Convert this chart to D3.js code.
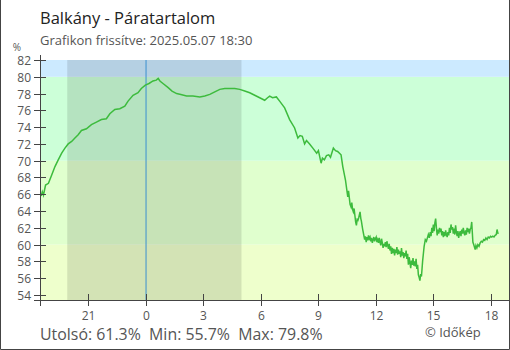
<!DOCTYPE html>
<html><head><meta charset="utf-8">
<script src="https://cdn.jsdelivr.net/npm/d3@7"></script>
<style>
html,body{margin:0;padding:0;background:#fff;}
svg{display:block;font-family:"Open Sans",sans-serif;}
</style></head><body>
<svg id="c" width="510" height="350"></svg>
<script>
// Data (hours relative to midnight, humidity %)
const hours = [-5.44,-5.38,-5.32,-5.21,-5.06,-4.89,-4.72,-4.55,-4.37,-4.20,-4.03,-3.85,-3.68,-3.51,-3.34,-3.08,-2.82,-2.56,-2.30,-2.04,-1.86,-1.60,-1.34,-1.08,-0.91,-0.65,-0.39,-0.22,-0.01,0.18,0.39,0.56,0.66,0.75,0.91,1.18,1.38,1.62,1.84,2.14,2.47,2.83,3.09,3.35,3.61,3.87,4.13,4.39,4.65,4.91,5.17,5.43,5.69,5.95,6.21,6.36,6.47,6.62,6.82,6.99,7.25,7.51,7.77,7.94,8.05,8.17,8.29,8.39,8.55,8.72,8.92,9.01,9.15,9.22,9.32,9.43,9.55,9.64,9.79,9.90,10.01,10.19,10.28,10.42,
10.54,10.58,10.62,10.66,10.71,10.75,10.79,10.83,10.87,10.91,10.95,10.99,11.03,11.07,11.11,11.15,11.18,11.22,11.25,11.29,
11.32,11.37,11.42,11.46,11.50,11.54,11.58,11.62,11.66,11.70,11.74,11.78,11.82,11.86,11.90,11.94,11.98,12.02,12.06,12.10,12.14,12.18,12.22,12.26,12.30,12.34,12.38,12.42,12.46,12.50,12.54,12.58,12.62,12.66,12.70,12.74,12.78,12.82,12.86,12.90,12.94,12.98,13.02,13.06,13.10,13.14,13.18,13.22,13.26,13.30,13.34,13.38,13.42,13.46,13.50,13.54,13.58,13.62,13.66,13.70,13.74,13.78,13.82,13.86,13.90,13.94,13.98,14.02,14.06,14.10,14.14,14.18,14.22,14.26,14.30,14.34,14.38,14.44,
14.52,14.58,14.64,14.69,14.74,14.79,14.84,14.88,14.92,14.96,15.00,15.04,15.08,15.12,15.16,15.20,15.24,15.28,15.32,15.36,15.40,15.44,15.48,15.52,15.56,15.60,15.64,15.68,15.72,15.76,15.80,15.84,15.88,15.92,15.96,16.00,16.04,16.08,16.12,16.16,16.20,16.24,16.28,16.32,16.36,16.40,16.44,16.48,16.52,16.56,16.60,16.64,16.68,16.72,16.76,16.80,16.84,16.88,16.92,16.96,17.00,17.03,17.06,17.12,17.18,17.22,17.27,17.32,17.38,17.44,17.50,17.56,17.62,17.68,17.74,17.80,17.86,17.92,17.98,18.04,18.10,18.16,18.22,18.28,18.32,18.36,18.39];
const humidity = [65.8,66.3,65.9,67.1,67.3,68.3,69.3,70.1,70.9,71.5,72.0,72.3,72.7,73.1,73.6,73.8,74.3,74.6,74.9,75.0,75.6,76.1,76.2,76.5,77.1,77.8,78.1,78.6,79.0,79.2,79.5,79.6,79.8,79.5,79.2,78.7,78.3,78.0,77.9,77.7,77.7,77.6,77.7,77.9,78.2,78.5,78.6,78.6,78.6,78.5,78.3,78.1,77.8,77.5,77.2,77.5,77.7,77.5,77.6,77.1,76.3,74.9,73.9,72.7,73.0,72.9,72.0,72.4,72.0,71.5,70.9,71.2,69.7,70.3,70.1,70.6,70.7,70.4,71.5,71.2,71.1,70.7,69.3,67.7,
65.7,66.4,65.6,64.8,64.5,65.0,64.2,63.9,64.3,63.5,62.7,62.3,63.0,62.9,63.2,63.6,63.9,63.1,62.8,62.2,
61.8,61.2,60.6,61.0,60.3,60.9,60.5,61.1,60.7,60.9,60.4,60.8,60.2,60.6,60.9,60.4,60.7,60.9,60.3,60.6,60.2,60.8,60.3,59.9,60.7,60.2,59.6,60.1,59.8,60.3,59.7,60.4,59.9,59.5,60.1,59.3,59.8,58.9,59.6,59.0,59.5,58.7,59.4,59.0,59.7,58.8,59.4,58.9,59.2,58.5,59.6,58.7,59.1,58.4,59.0,58.6,59.3,58.3,58.9,57.6,58.5,57.9,57.2,58.1,57.6,58.4,57.5,58.0,57.4,58.3,57.1,57.6,56.4,56.1,55.7,56.5,56.2,58.0,
59.8,60.6,60.4,60.8,61.2,60.8,61.5,61.0,62.0,61.4,62.4,61.6,62.6,63.1,62.0,61.1,61.8,61.3,62.0,61.5,61.9,61.1,61.6,60.9,61.5,61.0,61.7,61.2,60.9,61.5,61.1,62.0,61.4,62.4,61.8,62.1,61.3,61.9,61.2,62.3,61.5,61.0,61.6,60.8,61.3,61.6,61.0,61.8,61.3,62.0,61.4,61.1,61.7,61.2,62.0,61.5,61.9,61.3,61.8,62.0,62.7,61.5,60.3,59.9,59.4,59.9,59.6,60.0,59.8,60.2,60.4,60.3,60.6,60.5,60.8,60.6,60.9,60.8,61.0,60.9,61.0,60.9,61.1,61.2,61.8,61.4,61.3];
const yTicks = [54,56,58,60,62,64,66,68,70,72,74,76,78,80,82];
const xTickHours = [-3,0,3,6,9,12,15,18];
const xTickLabels = ["21","0","3","6","9","12","15","18"];
const bands = [[53.4,60],[60,70],[70,80],[80,82]];
const bandColors = ["#eeffcc","#e0ffce","#ccffd8","#cceaff"];
const night = [-4.08,5.0];
const title = "Balkány - Páratartalom";
const subtitle = "Grafikon frissítve: 2025.05.07 18:30";
const stats = "Utolsó: 61.3%  Min: 55.7%  Max: 79.8%";

const svg = d3.select("#c");
const L=40, R=509, T=60, B=300;
const x = d3.scaleLinear().domain([-5.5,18.5]).range([40,500.5]);
const y = d3.scaleLinear().domain([53.4,82]).range([B,T]);

// border
svg.append("path").attr("d","M0.5,0 V349.5 H509.5 V0").attr("fill","none").attr("stroke","#444").attr("stroke-width",1);

// bands
svg.selectAll("rect.band").data(bands).enter().append("rect")
  .attr("x",L).attr("width",R-L)
  .attr("y",d=>y(d[1])).attr("height",d=>y(d[0])-y(d[1]))
  .attr("fill",(d,i)=>bandColors[i]);
// night
svg.append("rect").attr("x",x(night[0])).attr("width",x(night[1])-x(night[0]))
  .attr("y",T).attr("height",B-T).attr("fill","rgba(0,0,0,0.11)");
// midnight line
svg.append("line").attr("x1",x(0)+0.5).attr("x2",x(0)+0.5).attr("y1",T).attr("y2",B)
  .attr("stroke","#3a8fd0").attr("stroke-width",1);

// data line
const pts = hours.map((h,i)=>[h,humidity[i]]);
svg.append("path").datum(pts)
  .attr("d",d3.line().x(d=>x(d[0])).y(d=>y(d[1])))
  .attr("fill","none").attr("stroke","#3dbb3d").attr("stroke-width",1.5);

// y axis
svg.append("line").attr("x1",L+0.5).attr("x2",L+0.5).attr("y1",55).attr("y2",306).attr("stroke","#444");
const yg = svg.append("g");
yTicks.forEach(t=>{
  const yy = Math.round(y(t))+0.5;
  yg.append("line").attr("x1",34).attr("x2",46).attr("y1",yy).attr("y2",yy).attr("stroke","#444");
  yg.append("text").attr("x",31).attr("y",yy).attr("dy","0.35em").attr("text-anchor","end")
    .attr("font-size",12).attr("fill","#555").text(t);
});
svg.append("text").attr("x",17).attr("y",51).attr("font-size",10).attr("fill","#555").attr("text-anchor","middle").text("%");

// x axis
svg.append("line").attr("x1",34).attr("x2",R).attr("y1",B+0.5).attr("y2",B+0.5).attr("stroke","#444");
xTickHours.forEach((h,i)=>{
  const xx = Math.round(x(h))+0.5;
  svg.append("line").attr("x1",xx).attr("x2",xx).attr("y1",294).attr("y2",306).attr("stroke","#444");
  svg.append("text").attr("x",xx).attr("y",320).attr("text-anchor","middle")
    .attr("font-size",12).attr("fill","#555").text(xTickLabels[i]);
});

// titles
svg.append("text").attr("x",40).attr("y",24).attr("font-size",16.5).attr("fill","#222").text(title);
svg.append("text").attr("x",40).attr("y",45).attr("font-size",13).attr("fill","#555").text(subtitle);
svg.append("text").attr("x",40).attr("y",340).attr("font-size",15.9).attr("fill","#555")
  .attr("xml:space","preserve").style("white-space","pre").text(stats);
svg.append("text").attr("x",425).attr("y",337).attr("font-size",13).attr("fill","#555").text("© Időkép");
</script></body></html>
